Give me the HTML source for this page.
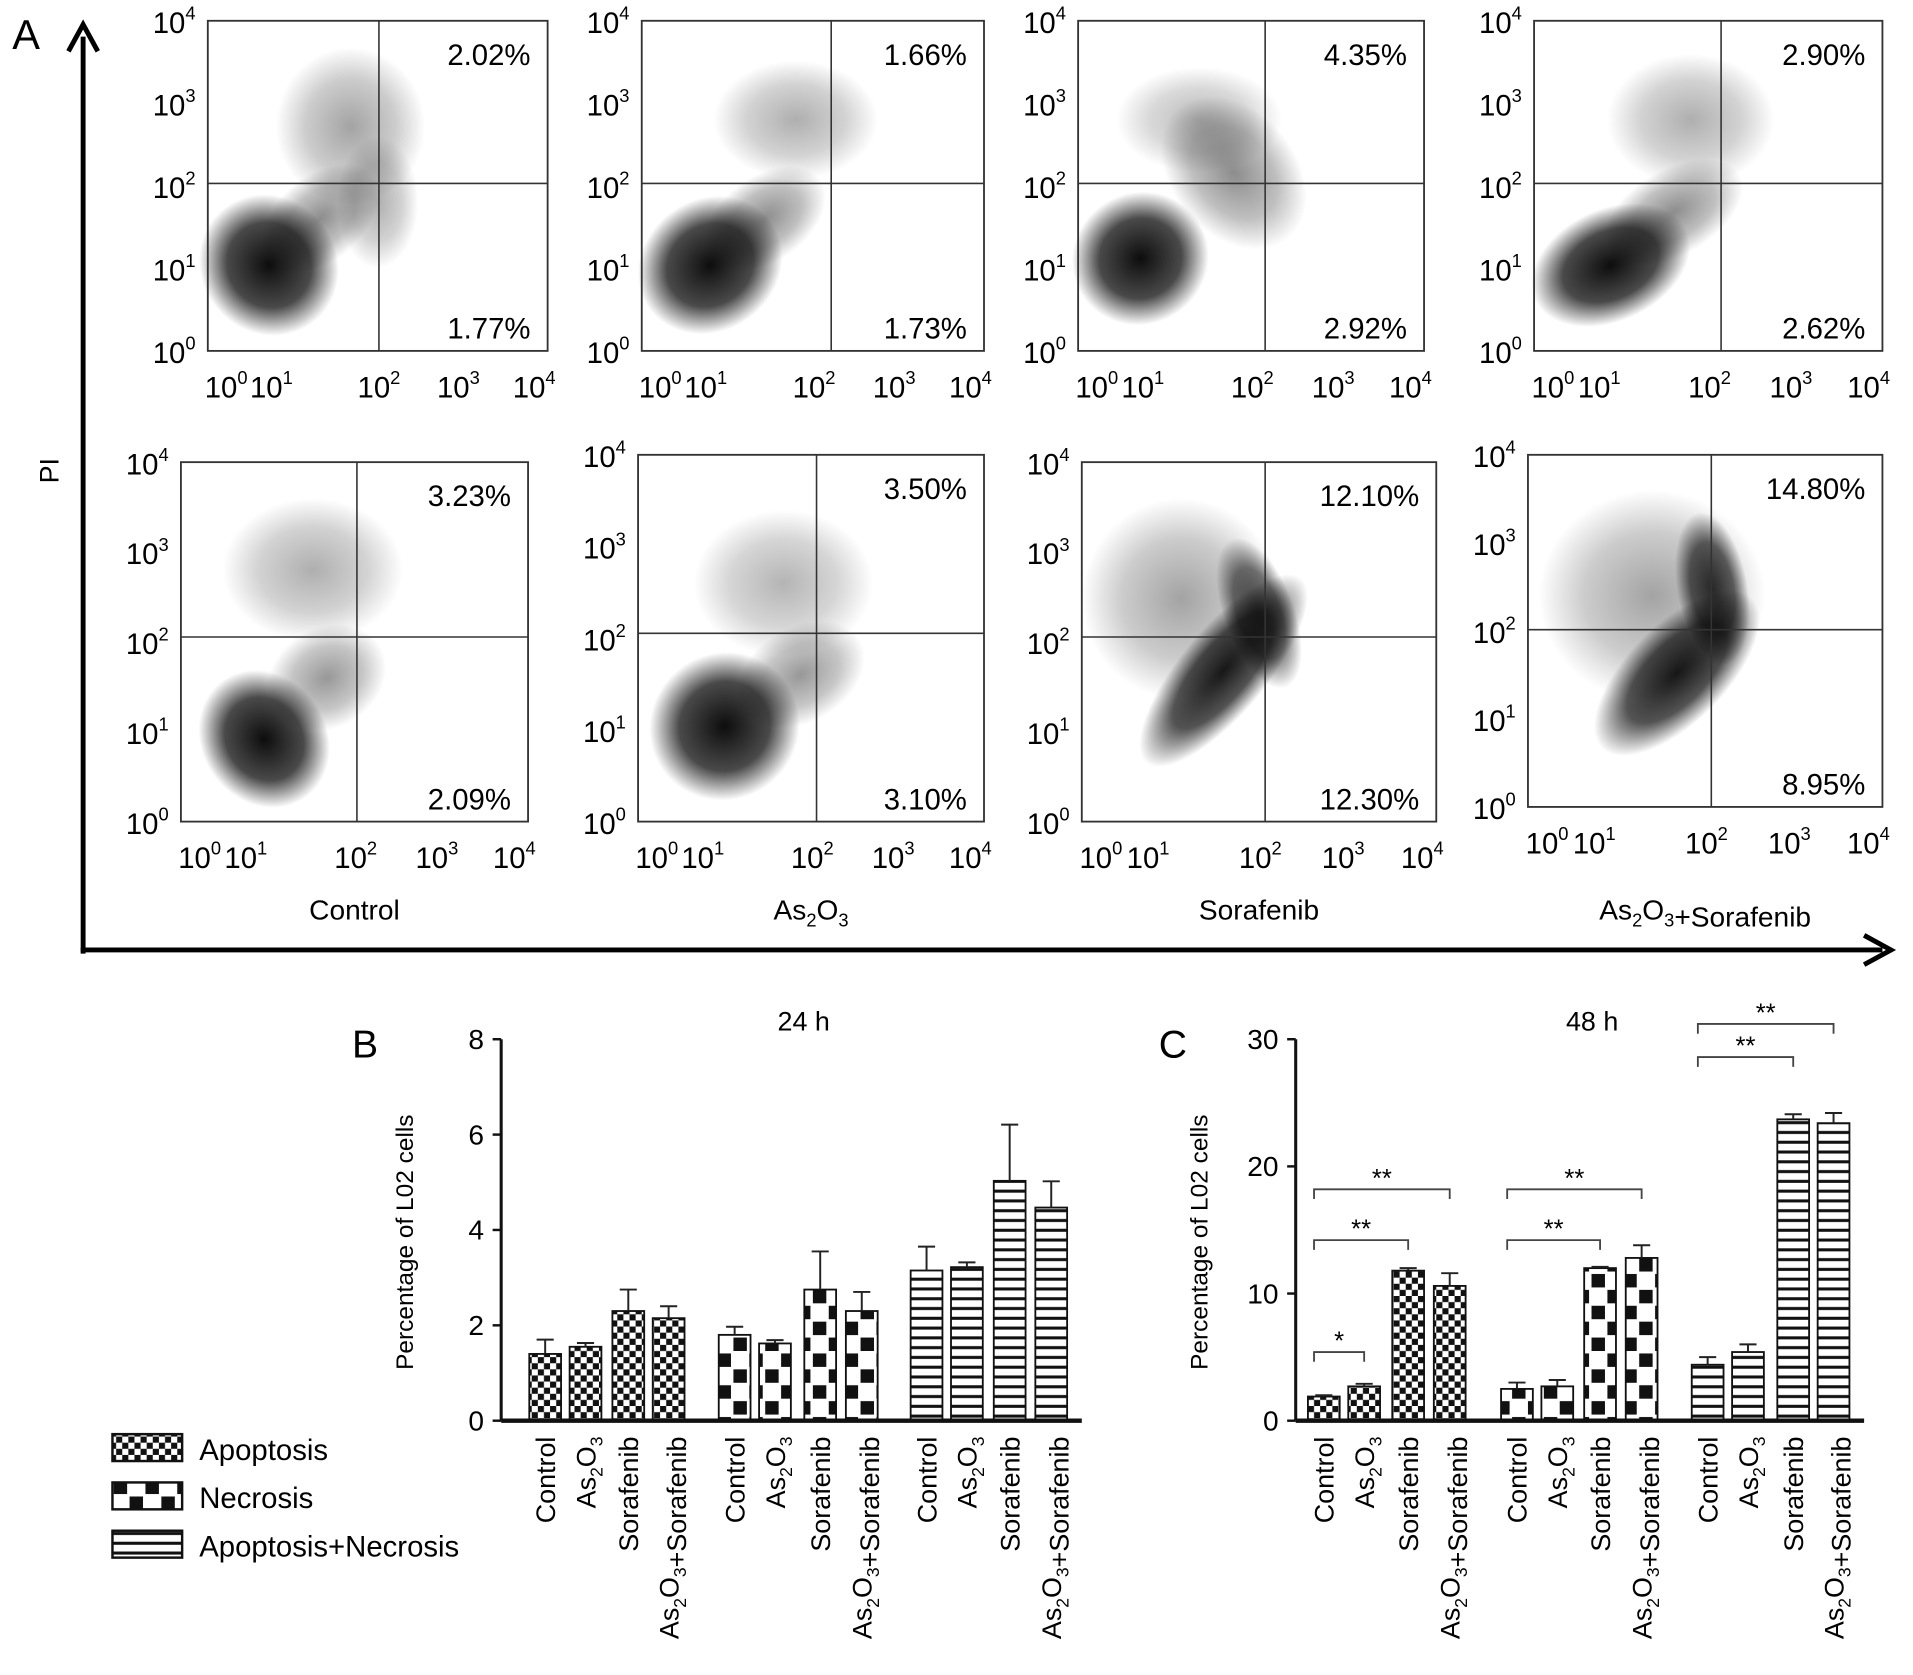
<!DOCTYPE html>
<html><head><meta charset="utf-8">
<style>
html,body{margin:0;padding:0;background:#fff;}
svg{display:block;font-family:"Liberation Sans",Arial,sans-serif;}
</style></head>
<body>
<svg id="fig" width="1913" height="1675" viewBox="0 0 1565 1370" preserveAspectRatio="none" xmlns="http://www.w3.org/2000/svg">
<defs>
<pattern id="pApop" patternUnits="userSpaceOnUse" width="10" height="10"><rect width="10" height="10" fill="#fff"/><rect width="5" height="5" fill="#111"/><rect x="5" y="5" width="5" height="5" fill="#111"/></pattern>
<pattern id="pNec" patternUnits="userSpaceOnUse" width="26" height="26"><rect width="26" height="26" fill="#fff"/><rect x="2" y="2" width="11" height="11" fill="#111"/><rect x="15" y="15" width="11" height="11" fill="#111"/></pattern>
<pattern id="pBoth" patternUnits="userSpaceOnUse" width="8" height="8"><rect width="8" height="8" fill="#fff"/><rect y="5" width="8" height="2.5" fill="#111"/></pattern>
<radialGradient id="blob"><stop offset="0" stop-color="#000" stop-opacity="1"/><stop offset="0.6" stop-color="#000" stop-opacity="0.75"/><stop offset="1" stop-color="#000" stop-opacity="0"/></radialGradient>
<radialGradient id="haze"><stop offset="0" stop-color="#000" stop-opacity="0.45"/><stop offset="0.6" stop-color="#000" stop-opacity="0.25"/><stop offset="1" stop-color="#000" stop-opacity="0"/></radialGradient>
</defs>
<g id="root"></g>
</svg>
<script>
// ---------- Flow cytometry panel data ----------
const panelNames = ["control-24h","as2o3-24h","sorafenib-24h","combo-24h","control-48h","as2o3-48h","sorafenib-48h","combo-48h"];
const upperRight = ["2.02%","1.66%","4.35%","2.90%","3.23%","3.50%","12.10%","14.80%"];
const lowerRight = ["1.77%","1.73%","2.92%","2.62%","2.09%","3.10%","12.30%","8.95%"];
const decadeLabels = ["0","1","2","3","4"];
const categoryLabels = ["Control","As2O3","Sorafenib","As2O3+Sorafenib"];
// clusters per panel: [fx, fy, rx, ry, angle, kind(0 dense,1 haze), opacity]
const clusters = [
 [[0.18,0.74,0.2,0.22,-40,0,0.95],[0.33,0.6,0.2,0.13,-40,1,1],[0.42,0.32,0.22,0.24,0,1,0.8],[0.5,0.55,0.12,0.2,0,1,0.7]],
 [[0.2,0.74,0.22,0.2,-35,0,0.95],[0.36,0.6,0.2,0.13,-35,1,1],[0.45,0.3,0.24,0.18,0,1,0.7]],
 [[0.18,0.72,0.2,0.2,-30,0,0.95],[0.45,0.46,0.18,0.26,-40,1,1],[0.35,0.3,0.24,0.16,0,1,0.6]],
 [[0.22,0.74,0.24,0.17,-25,0,0.95],[0.4,0.58,0.22,0.13,-30,1,1],[0.45,0.3,0.24,0.2,0,1,0.7]],
 [[0.24,0.77,0.18,0.2,-35,0,0.95],[0.42,0.6,0.18,0.14,-30,1,0.9],[0.38,0.3,0.26,0.2,0,1,0.7]],
 [[0.25,0.74,0.22,0.2,-35,0,0.95],[0.47,0.6,0.2,0.13,-30,1,0.9],[0.42,0.35,0.26,0.2,0,1,0.65]],
 [[0.4,0.58,0.34,0.12,-50,0,0.9],[0.5,0.42,0.1,0.22,-20,0,0.7],[0.28,0.38,0.28,0.28,0,1,0.8]],
 [[0.42,0.62,0.3,0.14,-45,0,0.9],[0.52,0.38,0.1,0.22,-10,0,0.8],[0.35,0.4,0.32,0.3,0,1,0.8]]
];
// layout of panels (display units)
const boxes = [[170,17,448,287],[525,17,805,287],[882,17,1165,287],[1255,17,1540,287],
 [148,378,432,672],[522,372,805,672],[885,378,1175,672],[1250,372,1540,660]];
const quads = [[310,150],[680,150],[1035,150],[1408,150],[292,521],[668,518],[1035,521],[1400,515]];
const xTickOff = [15,52,140,205,267];

// ---------- Bar chart data ----------
const groups = ["Apoptosis","Necrosis","Apoptosis+Necrosis"];
const b24Values = [[1.4,1.55,2.3,2.15],[1.8,1.62,2.75,2.3],[3.15,3.22,5.03,4.47]];
const b24Errors = [[0.3,0.08,0.45,0.25],[0.17,0.07,0.8,0.4],[0.5,0.1,1.18,0.55]];
const b24Ticks = [0,2,4,6,8];
const c48Values = [[1.9,2.7,11.8,10.6],[2.5,2.7,12.0,12.8],[4.4,5.4,23.7,23.4]];
const c48Errors = [[0.1,0.2,0.2,1.0],[0.5,0.5,0.1,1.0],[0.6,0.6,0.4,0.8]];
const c48Ticks = [0,10,20,30];
// significance: [group, fromBar, toBar, label, bracketValue]
const c48Sig = [[0,0,1,"*",5.4],[0,0,2,"**",14.2],[0,0,3,"**",18.2],[1,0,2,"**",14.2],[1,0,3,"**",18.2],[2,0,2,"**",28.6],[2,0,3,"**",31.2]];

const NS="http://www.w3.org/2000/svg";
const root=document.getElementById('root');
function mk(tag,attrs,parent){const e=document.createElementNS(NS,tag);for(const k in attrs)e.setAttribute(k,attrs[k]);(parent||root).appendChild(e);return e;}
function sub(s){return s.replace(/As2O3/g,'As<tspan dy="6" font-size="0.65em">2</tspan><tspan dy="-6">O</tspan><tspan dy="6" font-size="0.65em">3</tspan><tspan dy="-6"></tspan>');}

let e;
e=mk('text',{x:10,y:40,'font-size':34}); e.textContent='A';


e=mk('line',{x1:68,y1:780,x2:68,y2:30,stroke:'#000','stroke-width':4});


e=mk('path',{d:'M56,42 L68,20 L80,42',fill:'none',stroke:'#000','stroke-width':4});


e=mk('line',{x1:66,y1:777,x2:1540,y2:777,stroke:'#000','stroke-width':4});


e=mk('path',{d:'M1525,765 L1547,777 L1525,789',fill:'none',stroke:'#000','stroke-width':4});


e=mk('text',{x:0,y:0,'font-size':22,transform:'translate(48,385) rotate(-90)','text-anchor':'middle'}); e.textContent='PI';



boxes.forEach((b,i)=>{
  const g=mk('g',{});
  
  
  const [x0,y0,x1,y1]=b,w=x1-x0,h=y1-y0;
  const cg=mk('g',{},g);
  clusters[i].forEach((c,k)=>{
    const cx=x0+c[0]*w,cy=y0+c[1]*h;
    const el=mk('ellipse',{cx:cx,cy:cy,rx:c[2]*w,ry:c[3]*h,fill:c[5]?'url(#haze)':'url(#blob)',opacity:c[6],transform:`rotate(${c[4]} ${cx} ${cy})`},cg);
    
    
  });
  const r=mk('rect',{x:x0,y:y0,width:w,height:h,fill:'none',stroke:'#333','stroke-width':1.5},g);
  
  
  const q=quads[i];
  const qv=mk('line',{x1:q[0],y1:y0,x2:q[0],y2:y1,stroke:'#333','stroke-width':1.3},g);
  
  
  const qh=mk('line',{x1:x0,y1:q[1],x2:x1,y2:q[1],stroke:'#333','stroke-width':1.3},g);
  
  
  const t1=mk('text',{x:x1-14,y:y0+36,'font-size':24,'text-anchor':'end'},g); t1.textContent=upperRight[i];
  
  
  const t2=mk('text',{x:x1-14,y:y1-10,'font-size':24,'text-anchor':'end'},g); t2.textContent=lowerRight[i];
  
  
  decadeLabels.forEach((d,k)=>{
    const yy=y1-k*(h/4)+10;
    const ty=mk('text',{x:x0-10,y:yy,'font-size':24,'text-anchor':'end'},g);
    ty.innerHTML='10<tspan dy="-11" font-size="15">'+d+'</tspan>';
    
    
    const tx=mk('text',{x:x0+xTickOff[k]*w/278,y:y1+38,'font-size':24,'text-anchor':'middle'},g);
    tx.innerHTML='10<tspan dy="-11" font-size="15">'+d+'</tspan>';
    
    
  });
  if(i>=4){
    const cl=mk('text',{x:(x0+x1)/2,y:752,'font-size':23,'text-anchor':'middle'},g);
    cl.innerHTML=sub(categoryLabels[i-4]);
    
    
  }
});

const fills=['url(#pApop)','url(#pNec)','url(#pBoth)'];
function barChart(name,axX,axR,zeroY,topY,ticks,vals,errs,centers,title,letter,letterX){
  const g=mk('g',{});
  
  
  const maxV=ticks[ticks.length-1];
  const Y=v=>zeroY-(v/maxV)*(zeroY-topY);
  const L=mk('text',{x:letterX,y:865,'font-size':32},g); L.textContent=letter;
  
  
  const T=mk('text',{x:(axX+axR)/2+10,y:843,'font-size':22,'text-anchor':'middle'},g); T.textContent=title;
  
  
  vals.forEach((grp,gi)=>grp.forEach((v,bi)=>{
    const cx=centers[gi*4+bi],bw=26;
    const r=mk('rect',{x:cx-bw/2,y:Y(v),width:bw,height:zeroY-Y(v),fill:fills[gi],stroke:'#111','stroke-width':1.5},g);
    
    
    const ey=Y(v+errs[gi][bi]);
    const el=mk('path',{d:`M${cx},${Y(v)} V${ey} M${cx-7},${ey} H${cx+7}`,stroke:'#222','stroke-width':1.6,fill:'none'},g);
    
    
    const lab=mk('text',{x:0,y:0,'font-size':22,'text-anchor':'end',transform:`translate(${cx+8},1175) rotate(-90)`},g);
    lab.innerHTML=sub(categoryLabels[bi]);
    
    
  }));
  const ya=mk('line',{x1:axX,y1:topY,x2:axX,y2:zeroY,stroke:'#111','stroke-width':2.5},g);
  
  
  const xa=mk('line',{x1:axX,y1:zeroY,x2:axR,y2:zeroY,stroke:'#111','stroke-width':3.5},g);
  
  
  ticks.forEach(t=>{
    const tk=mk('line',{x1:axX-7,y1:Y(t),x2:axX,y2:Y(t),stroke:'#111','stroke-width':2},g);
    
    
    const tl=mk('text',{x:axX-14,y:Y(t)+8,'font-size':23,'text-anchor':'end'},g); tl.textContent=t;
    
    
  });
  const yt=mk('text',{x:0,y:0,'font-size':20,'text-anchor':'middle',transform:`translate(${axX-72},${(zeroY+topY)/2+10}) rotate(-90)`},g);
  yt.textContent=letter==='B'?'Percentage of L02 cells':'Percentage of L02  cells';
  
  
  return {g,Y};
}
barChart('bar-chart-24h',410,885,1162,850,b24Ticks,b24Values,b24Errors,[446,479,514,547,601,634,671,705,758,791,826,860],'24 h','B',288);
const C=barChart('bar-chart-48h',1060,1525,1162,850,c48Ticks,c48Values,c48Errors,[1083,1116,1152,1186,1241,1274,1309,1343,1397,1430,1467,1500],'48 h','C',948);
const cC=[1083,1116,1152,1186,1241,1274,1309,1343,1397,1430,1467,1500];
c48Sig.forEach(s=>{
  const xa=cC[s[0]*4+s[1]]-8,xb=cC[s[0]*4+s[2]],y=C.Y(s[4]);
  const p=mk('path',{d:`M${xa},${y+8} V${y} H${xb} V${y+8}`,fill:'none',stroke:'#444','stroke-width':1.5},C.g);
  
  
  const t=mk('text',{x:(xa+xb)/2,y:y-2,'font-size':21,'text-anchor':'middle'},C.g); t.textContent=s[3];
  
  
});

const lg=mk('g',{});


groups.forEach((gname,i)=>{
  const y=1173+i*39.5;
  const r=mk('rect',{x:92,y:y,width:57,height:22,fill:fills[i],stroke:'#111','stroke-width':2},lg);
  
  
  const t=mk('text',{x:163,y:y+21,'font-size':24},lg); t.textContent=gname;
  
  
});
</script>
</body></html>
